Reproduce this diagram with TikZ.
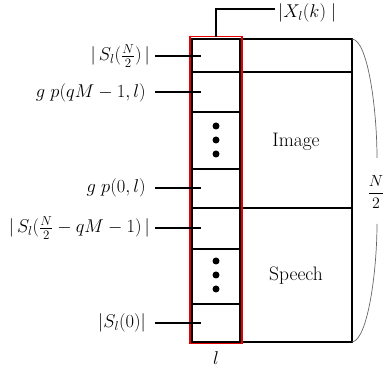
\RequirePackage{fix-cm}
\documentclass[tikz,border=0pt]{standalone}
\usepackage{amsmath}
\begin{document}
\begin{tikzpicture}[x=1pt,y=-1pt,
  grid/.style={draw=black,line width=2pt},
  tick/.style={draw=black,line width=2pt},
  lab/.style={anchor=east,inner sep=0pt,font=\fontsize{18.5}{22}\selectfont},
  frac/.style={inner sep=0pt,font=\fontsize{16}{19}\selectfont},
  txt/.style={inner sep=0pt,font=\fontsize{19.5}{23}\selectfont},
  dot/.style={circle,fill=black,inner sep=0pt,minimum size=7pt}]
\useasboundingbox (0,0) rectangle (389,371);
% big frame
\draw[grid] (192,39) rectangle (352,342);
\draw[grid] (240,39) -- (240,342);
\draw[grid] (192,72) -- (352,72);
\draw[grid] (192,208) -- (352,208);
\foreach \yy in {112,169,249,304}{\draw[grid] (192,\yy) -- (240,\yy);}
% red highlight
\draw[red!90!black,line width=1.5pt] (190,36.5) rectangle (242,343.5);
% dots
\foreach \yy in {126,140,154,261,275,289}{\node[dot] at (216,\yy) {};}
% labels
\node[lab] (s1) at (150,56) {$|\,S_l(\frac{N}{2})\,|$};
\node[lab] (s2) at (146,92.5) {$g\;p(qM-1,l)$};
\node[lab] (s3) at (146,188) {$g\;p(0,l)$};
\node[lab] (s4) at (150,228) {$|\,S_l(\frac{N}{2}-qM-1)\,|$};
\node[lab] (s5) at (146,323) {$|S_l(0)|$};
\foreach \n/\yy in {s1/56,s2/92.5,s3/188,s4/228,s5/323}{
  \coordinate (e\n) at (201,\yy);
  \draw[tick] (155,\yy) -- (e\n);}
% top label
\node[lab,anchor=west] (xk) at (278,13) {$|X_l(k)\;|$};
\coordinate (xtop) at (216,9);
\coordinate (xbot) at (216,37);
\draw[black,line width=1.6pt] (xbot) -- (xtop) -- (275,9);
% region labels
\node[txt] (img) at (296,142) {Image};
\node[txt] (sp) at (296,276) {Speech};
\node[lab,anchor=center] (ll) at (216,358) {$l$};
% brace
\node[frac] (n2) at (376,192) {$\dfrac{N}{2}$};
\draw[gray!80!black,line width=0.7pt] (352,39) .. controls (368,40) and (377,110) .. (377,158);
\draw[gray!80!black,line width=0.7pt] (352,342) .. controls (368,340) and (377,270) .. (377,224);
\end{tikzpicture}
\end{document}
